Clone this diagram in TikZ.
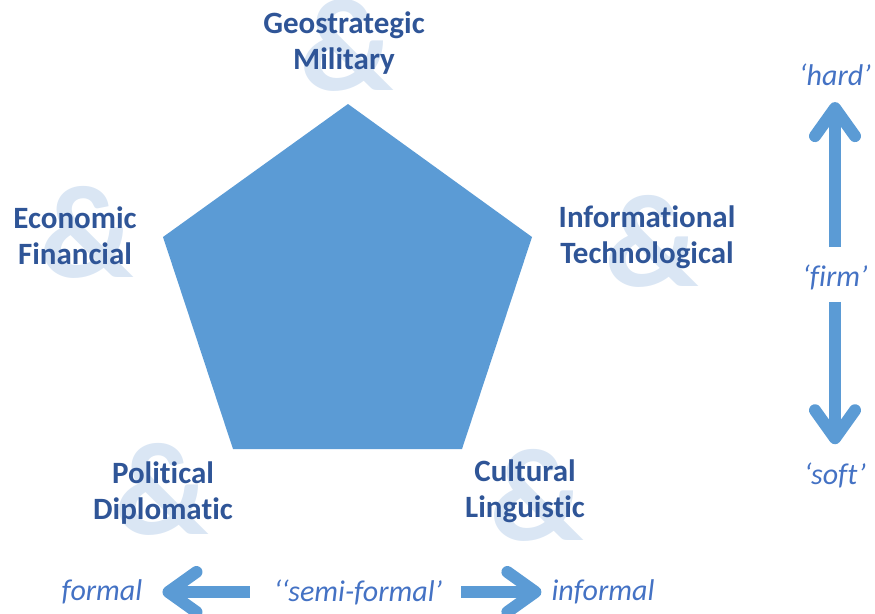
\documentclass[tikz,border=0pt]{standalone}
\usepackage{fontspec}
\setmainfont[RawFeature=-liga, RawFeature=-clig, RawFeature=-dlig, RawFeature=-calt]{Carlito}
\usetikzlibrary{arrows.meta}
\definecolor{penta}{RGB}{91,155,213}
\definecolor{dimtext}{RGB}{47,85,151}
\definecolor{scaletext}{RGB}{68,114,196}
\definecolor{amp}{RGB}{218,230,244}
\begin{document}
\begin{tikzpicture}[x=1pt,y=-1pt,
  dimlabel/.style={font=\fontsize{31}{36}\selectfont\bfseries, text=dimtext, align=center, inner sep=0pt},
  ampsign/.style={font=\fontsize{132}{132}\selectfont\bfseries, text=amp, inner sep=0pt},
  scalelabel/.style={font=\fontsize{30}{34}\selectfont\itshape, text=scaletext, inner sep=0pt},
  bigarrow/.style={draw=penta, line width=12pt,
    -{Straight Barb[length=28pt, width=40pt, round]}}]
\useasboundingbox (0,0) rectangle (875,613);
% the five-sided core
\fill[penta] (348,104) -- (532,237) -- (462,449) -- (233,449) -- (163,237) -- cycle;
% ampersands behind each pair of dimensions
\node[ampsign] (a1) at (347,45) {\&};
\node[ampsign] (a2) at (87,232) {\&};
\node[ampsign] (a3) at (652,241) {\&};
\node[ampsign] (a4) at (162,489) {\&};
\node[ampsign] (a5) at (537,495) {\&};
% dimension labels
\node[dimlabel] (geo) at (344,43) {Geostrategic\\Military};
\node[dimlabel] (eco) at (75,236) {Economic\\Financial};
\node[dimlabel] (inf) at (647,237) {Informational\\Technological};
\node[dimlabel] (pol) at (163,493) {Political\\Diplomatic};
\node[dimlabel] (cul) at (525,491) {Cultural\\Linguistic};
% formality scale
\node[scalelabel] (formal) at (102,592) {formal};
\node[scalelabel] (semi) at (358,592) {‘‘semi-formal’};
\node[scalelabel] (informal) at (603,592) {informal};
\draw[bigarrow, shorten <=24pt, shorten >=20pt] (semi.west) -- (formal.east);
\draw[bigarrow, shorten <=19pt, shorten >=10pt] (semi.east) -- (informal.west);
% hardness scale
\node[scalelabel] (hard) at (835,75) {‘hard’};
\node[scalelabel] (firm) at (835,277) {‘firm’};
\node[scalelabel] (soft) at (835,475) {‘soft’};
\draw[bigarrow, shorten <=17pt, shorten >=16pt] (firm.north) -- (hard.south);
\draw[bigarrow, shorten <=12pt, shorten >=18pt] (firm.south) -- (soft.north);
\end{tikzpicture}
\end{document}
